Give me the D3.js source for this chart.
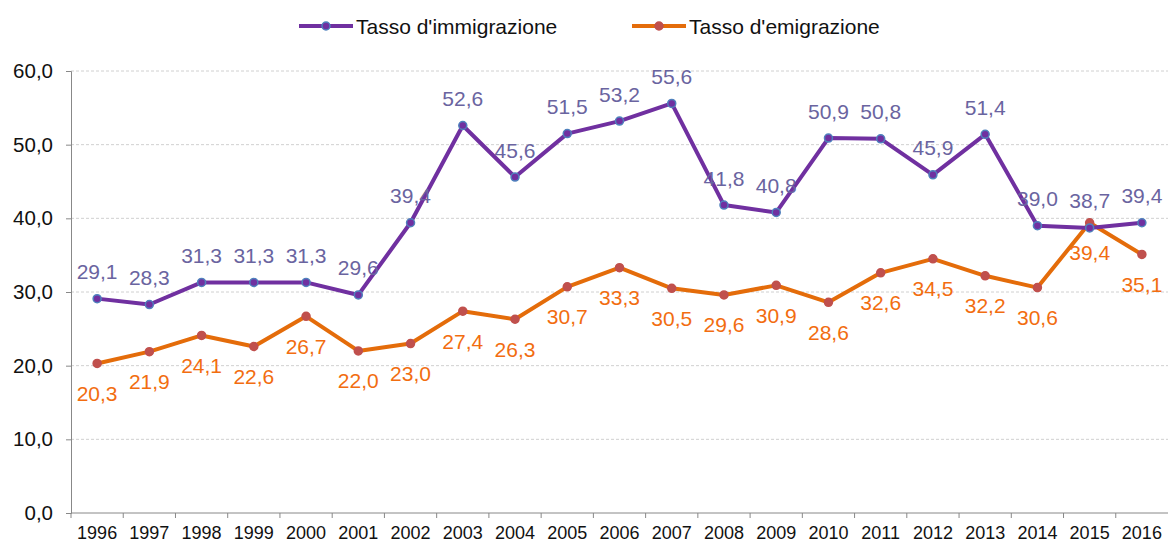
<!DOCTYPE html>
<html>
<head>
<meta charset="utf-8">
<script src="https://cdn.jsdelivr.net/npm/d3@7"></script>
<style>
  body { margin: 0; background: #fff; }
  svg { font-family: "Liberation Sans", Arial, sans-serif; }
</style>
</head>
<body>
<svg id="chart" width="1168" height="544"></svg>
<script>
const years = ['1996', '1997', '1998', '1999', '2000', '2001', '2002', '2003', '2004', '2005', '2006',
  '2007', '2008', '2009', '2010', '2011', '2012', '2013', '2014', '2015', '2016'];
const immigrazione = [29.1, 28.3, 31.3, 31.3, 31.3, 29.6, 39.4, 52.6, 45.6, 51.5, 53.2,
  55.6, 41.8, 40.8, 50.9, 50.8, 45.9, 51.4, 39.0, 38.7, 39.4];
const emigrazione = [20.3, 21.9, 24.1, 22.6, 26.7, 22.0, 23.0, 27.4, 26.3, 30.7, 33.3,
  30.5, 29.6, 30.9, 28.6, 32.6, 34.5, 32.2, 30.6, 39.4, 35.1];
const yTicks = [0, 10, 20, 30, 40, 50, 60];
const seriesNames = ["Tasso d'immigrazione", "Tasso d'emigrazione"];

const svg = d3.select('#chart');
const plotLeft = 71, plotRight = 1168, plotTop = 71, plotBottom = 513;
const fmt = v => v.toFixed(1).replace('.', ',');

const x = d3.scaleBand().domain(years).range([plotLeft, plotRight]);
const y = d3.scaleLinear().domain([0, 60]).range([plotBottom, plotTop]);

// gridlines
svg.append('g')
  .selectAll('line')
  .data(yTicks.filter(t => t > 0))
  .enter()
  .append('line')
  .attr('x1', plotLeft)
  .attr('x2', plotRight)
  .attr('y1', d => y(d))
  .attr('y2', d => y(d))
  .attr('stroke', '#d0d0d0')
  .attr('stroke-dasharray', '3,2');

// y axis
const yAxis = svg.append('g')
  .attr('transform', `translate(${plotLeft},0)`)
  .call(d3.axisLeft(y).tickValues(yTicks).tickSize(5).tickFormat(fmt));
yAxis.select('.domain').attr('stroke', '#888');
yAxis.selectAll('.tick line').attr('stroke', '#888');
yAxis.selectAll('.tick text')
  .attr('font-size', 20.5)
  .attr('font-family', '"Liberation Sans", Arial, sans-serif')
  .attr('fill', '#111')
  .attr('x', -18);

// x axis (ticks on band boundaries)
const xAxis = svg.append('g').attr('transform', `translate(0,${plotBottom})`);
xAxis.append('line')
  .attr('x1', plotLeft)
  .attr('x2', plotRight)
  .attr('stroke', '#888');
xAxis.selectAll('line.tk')
  .data(years)
  .enter()
  .append('line')
  .classed('tk', true)
  .attr('x1', d => x(d))
  .attr('x2', d => x(d))
  .attr('y1', 0)
  .attr('y2', 5)
  .attr('stroke', '#888');
xAxis.selectAll('text')
  .data(years)
  .enter()
  .append('text')
  .attr('x', d => x(d) + x.bandwidth() / 2)
  .attr('y', 26)
  .attr('text-anchor', 'middle')
  .attr('font-size', 18)
  .attr('fill', '#111')
  .text(d => d);

const cx = d => x(d) + x.bandwidth() / 2;

function drawSeries(values, lineColor, markerFill, markerStroke, labelColor, labelDy) {
  const pts = years.map((yr, i) => [cx(yr), y(values[i]), values[i]]);
  svg.append('path')
    .datum(pts)
    .attr('fill', 'none')
    .attr('stroke', lineColor)
    .attr('stroke-width', 4)
    .attr('stroke-linejoin', 'round')
    .attr('d', d3.line().x(d => d[0]).y(d => d[1]));
  svg.append('g')
    .selectAll('circle')
    .data(pts)
    .enter()
    .append('circle')
    .attr('cx', d => d[0])
    .attr('cy', d => d[1])
    .attr('r', 4)
    .attr('fill', markerFill)
    .attr('stroke', markerStroke)
    .attr('stroke-width', 1.5);
  svg.append('g')
    .selectAll('text')
    .data(pts)
    .enter()
    .append('text')
    .attr('x', d => d[0])
    .attr('y', d => d[1] + labelDy)
    .attr('text-anchor', 'middle')
    .attr('dominant-baseline', 'central')
    .attr('font-size', 21)
    .attr('fill', labelColor)
    .text(d => fmt(d[2]));
}

drawSeries(emigrazione, '#E46C0A', '#C0504D', '#C0504D', '#F26D10', 30);
drawSeries(immigrazione, '#7030A0', '#7030A0', '#4F81BD', '#6A64A0', -27);

// legend
const legend = [
  { name: seriesNames[0], x0: 299, line: '#7030A0', fill: '#7030A0', stroke: '#4F81BD' },
  { name: seriesNames[1], x0: 632, line: '#E46C0A', fill: '#C0504D', stroke: '#C0504D' }
];
const lg = svg.append('g').selectAll('g').data(legend).enter().append('g');
lg.append('line')
  .attr('x1', d => d.x0)
  .attr('x2', d => d.x0 + 54)
  .attr('y1', 26)
  .attr('y2', 26)
  .attr('stroke', d => d.line)
  .attr('stroke-width', 4);
lg.append('circle')
  .attr('cx', d => d.x0 + 27)
  .attr('cy', 26)
  .attr('r', 4)
  .attr('fill', d => d.fill)
  .attr('stroke', d => d.stroke)
  .attr('stroke-width', 1.5);
lg.append('text')
  .attr('x', d => d.x0 + 57)
  .attr('y', 26)
  .attr('dominant-baseline', 'central')
  .attr('font-size', 21)
  .attr('fill', '#111')
  .text(d => d.name);
</script>
</body>
</html>
